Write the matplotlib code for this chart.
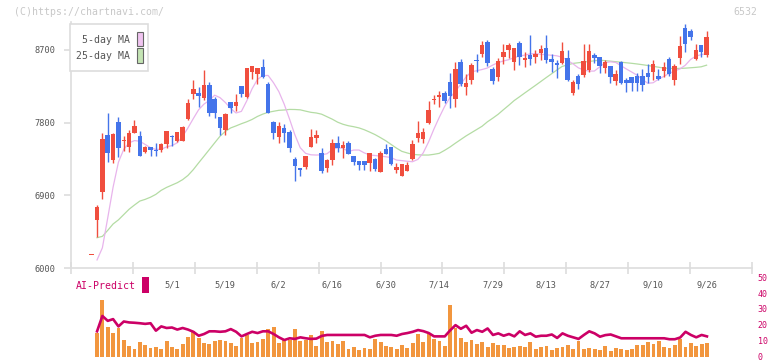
import numpy as np
import matplotlib
matplotlib.use("Agg")
import matplotlib.pyplot as plt
from matplotlib.patches import Rectangle

# ---------------- data ----------------
opens = [6160, 6594, 6945, 7647, 7337, 7807, 7570, 7502, 7675, 7634,
         7440, 7498, 7455, 7461, 7539, 7628, 7577, 7577, 7845, 8154,
         8162, 8108, 8265, 8089, 7870, 7705, 8055, 8010, 8253, 8121,
         8430, 8405, 8488, 8278, 7807, 7625, 7733, 7684, 7346, 7235,
         7254, 7502, 7613, 7424, 7242, 7341, 7548, 7490, 7548, 7387,
         7325, 7325, 7304, 7350, 7193, 7473, 7498, 7217, 7143, 7205,
         7350, 7613, 7600, 7795, 8080, 8113, 8162, 8303, 8096, 8550,
         8245, 8327, 8575, 8650, 8798, 8464, 8365, 8612, 8700, 8554,
         8785, 8580, 8637, 8612, 8662, 8723, 8587, 8530, 8538, 8600,
         8167, 8377, 8393, 8455, 8637, 8612, 8480, 8505, 8319, 8554,
         8327, 8368, 8377, 8377, 8414, 8426, 8377, 8443, 8587, 8331,
         8600, 8971, 8934, 8587, 8760, 8637]
highs = [6160, 6780, 7667, 7923, 7675, 7869, 7638, 7708, 7832, 7696,
         7510, 7500, 7547, 7547, 7700, 7647, 7684, 7758, 8090, 8327,
         8245, 8451, 8306, 8113, 7873, 7915, 8060, 8150, 8255, 8480,
         8500, 8476, 8587, 8306, 7820, 7807, 7783, 7708, 7380, 7238,
         7387, 7720, 7708, 7486, 7350, 7597, 7634, 7572, 7572, 7387,
         7325, 7325, 7424, 7362, 7448, 7535, 7498, 7300, 7288, 7312,
         7585, 7820, 7733, 8067, 8142, 8195, 8195, 8414, 8550, 8587,
         8402, 8538, 8650, 8810, 8823, 8488, 8600, 8773, 8785, 8723,
         8810, 8674, 8885, 8700, 8760, 8885, 8650, 8575, 8798, 8700,
         8327, 8402, 8773, 8773, 8662, 8612, 8575, 8505, 8451, 8563,
         8352, 8368, 8414, 8464, 8525, 8575, 8464, 8550, 8612, 8525,
         8872, 9021, 8959, 8773, 8760, 8934]
lows = [6160, 6390, 6850, 7316, 7296, 7378, 7452, 7433, 7670, 7385,
        7427, 7390, 7390, 7436, 7482, 7515, 7557, 7577, 7836, 8092,
        7997, 8080, 7885, 7853, 7650, 7650, 7915, 7948, 8118, 8100,
        8335, 8280, 8355, 7920, 7600, 7551, 7560, 7440, 7080, 7143,
        7230, 7500, 7550, 7180, 7193, 7280, 7440, 7362, 7415, 7270,
        7213, 7213, 7205, 7205, 7193, 7415, 7270, 7180, 7143, 7205,
        7337, 7560, 7550, 7783, 8034, 7997, 8047, 7985, 7997, 8253,
        8146, 8278, 8426, 8612, 8500, 8278, 8315, 8525, 8600, 8450,
        8513, 8488, 8513, 8538, 8575, 8538, 8426, 8352, 8525, 8315,
        8142, 8216, 8368, 8430, 8538, 8418, 8418, 8295, 8270, 8282,
        8183, 8195, 8195, 8195, 8295, 8327, 8327, 8368, 8377, 8270,
        8525, 8674, 8823, 8575, 8612, 8612]
closes = [6160, 6755, 7597, 7427, 7659, 7490, 7585, 7671, 7758, 7390,
          7498, 7465, 7445, 7535, 7696, 7618, 7684, 7750, 8043, 8212,
          8133, 8265, 7915, 7915, 7737, 7906, 7981, 8052, 8150, 8476,
          8500, 8476, 8364, 7923, 7675, 7758, 7671, 7490, 7267, 7210,
          7387, 7622, 7647, 7205, 7337, 7548, 7490, 7523, 7415, 7316,
          7275, 7275, 7424, 7226, 7424, 7415, 7291, 7250, 7288, 7275,
          7535, 7671, 7684, 7956, 8092, 8142, 8071, 8133, 8464, 8282,
          8290, 8513, 8565, 8760, 8542, 8315, 8563, 8674, 8760, 8723,
          8608, 8600, 8587, 8650, 8711, 8575, 8550, 8520, 8686, 8327,
          8303, 8278, 8563, 8686, 8604, 8505, 8550, 8368, 8402, 8295,
          8295, 8295, 8295, 8265, 8368, 8525, 8340, 8488, 8402, 8505,
          8748, 8777, 8860, 8699, 8674, 8860]

ma5 = [np.nan, 6100, 6250, 6620, 7000, 7310, 7470, 7550, 7578, 7570,
       7530, 7490, 7468, 7470, 7500, 7516, 7550, 7630, 7735, 7850,
       7960, 8030, 8075, 8140, 8110, 8050, 7975, 7920, 7940, 8070,
       8220, 8335, 8382, 8385, 8295, 8185, 8030, 7845, 7650, 7490,
       7420, 7402, 7399, 7402, 7415, 7465, 7490, 7484, 7442, 7461,
       7461, 7425, 7400, 7393, 7386, 7378, 7368, 7337, 7330, 7322,
       7316, 7345, 7425, 7560, 7720, 7865, 8000, 8110, 8185, 8275,
       8365, 8430, 8443, 8458, 8477, 8513, 8544, 8564, 8580, 8605,
       8624, 8637, 8651, 8655, 8648, 8640, 8635, 8628, 8610, 8570,
       8530, 8480, 8452, 8439, 8439, 8490, 8542, 8554, 8546, 8505,
       8465, 8427, 8388, 8335, 8288, 8294, 8338, 8373, 8410, 8440,
       8465, 8510, 8582, 8625, 8642, 8656]
ma25 = [np.nan, 6375, 6392, 6466, 6545, 6596, 6662, 6728, 6780, 6829,
        6850, 6877, 6912, 6962, 6998, 7027, 7056, 7094, 7146, 7218,
        7302, 7384, 7467, 7550, 7632, 7692, 7735, 7760, 7787, 7811,
        7840, 7877, 7906, 7928, 7941, 7953, 7957, 7964, 7963, 7959,
        7943, 7928, 7920, 7905, 7874, 7843, 7806, 7780, 7762, 7750,
        7735, 7712, 7683, 7652, 7615, 7576, 7530, 7485, 7445, 7425,
        7408, 7402, 7399, 7399, 7408, 7420, 7457, 7498, 7545, 7590,
        7635, 7675, 7715, 7755, 7810, 7855, 7903, 7960, 8015, 8073,
        8120, 8168, 8215, 8262, 8310, 8358, 8405, 8452, 8497, 8515,
        8534, 8542, 8550, 8558, 8566, 8575, 8568, 8562, 8555, 8549,
        8542, 8535, 8527, 8518, 8508, 8498, 8487, 8477, 8472, 8472,
        8472, 8475, 8480, 8485, 8492, 8512]

volume = [np.nan, 14.8, 35.4, 18.6, 14.8, 17.9, 10.4, 6.7, 4.8, 9.2,
          7.3, 5.4, 6.0, 4.8, 9.8, 6.0, 4.8, 7.9, 12.3, 16.1,
          11.7, 8.5, 7.9, 9.8, 10.4, 9.8, 8.5, 6.7, 11.7, 13.6,
          8.5, 9.2, 11.1, 17.3, 18.6, 8.5, 11.1, 10.4, 17.3, 9.8,
          10.4, 13.6, 6.7, 16.1, 9.2, 9.8, 7.9, 9.8, 4.8, 6.0,
          4.2, 5.4, 4.8, 11.1, 9.2, 6.7, 6.0, 4.8, 7.3, 5.4,
          8.5, 14.2, 9.2, 14.2, 11.1, 9.8, 6.7, 32.3, 17.9, 11.7,
          9.2, 10.4, 7.9, 9.2, 6.0, 8.5, 7.3, 7.3, 5.4, 6.0,
          6.7, 6.0, 9.2, 4.8, 6.0, 6.7, 4.2, 5.4, 6.0, 7.3,
          4.8, 9.8, 4.8, 5.4, 4.8, 4.2, 6.7, 3.6, 5.4, 4.8,
          4.2, 4.8, 7.3, 7.3, 9.2, 7.9, 9.8, 6.0, 5.4, 7.3,
          11.1, 6.0, 8.5, 6.7, 7.9, 8.5]
ai_predict = [np.nan, 15.9, 25.6, 22.5, 23.6, 19.0, 22.1, 21.5, 21.3, 21.0,
              20.6, 21.0, 16.3, 19.0, 18.0, 18.3, 17.0, 18.0, 17.0, 15.6,
              13.1, 14.2, 15.9, 15.9, 15.6, 15.9, 17.3, 15.6, 12.7, 14.2,
              15.6, 14.8, 15.9, 15.9, 14.2, 12.1, 10.4, 11.5, 11.1, 12.1,
              11.5, 11.1, 11.3, 13.0, 13.6, 13.6, 13.6, 13.6, 13.6, 13.6,
              13.6, 13.6, 12.1, 13.1, 13.6, 13.6, 13.6, 13.1, 14.2, 14.8,
              15.6, 16.7, 16.0, 14.8, 12.7, 12.7, 12.7, 16.5, 19.8, 17.5,
              19.4, 15.0, 16.7, 15.6, 17.7, 13.6, 14.6, 13.1, 14.2, 12.7,
              15.9, 13.6, 14.6, 12.5, 13.1, 13.1, 13.9, 11.7, 14.6, 13.1,
              12.1, 11.1, 13.6, 15.9, 14.6, 12.5, 13.5, 13.9, 12.7, 11.5,
              11.5, 11.5, 11.5, 11.5, 11.5, 11.5, 11.5, 11.5, 10.9, 10.9,
              12.0, 15.6, 13.6, 12.1, 13.6, 12.7]

date_labels = ["5/1", "5/19", "6/2", "6/16", "6/30", "7/14",
               "7/29", "8/13", "8/27", "9/10", "9/26"]
date_label_idx = [15, 25, 35, 45, 55, 65, 75, 85, 95, 105, 115]
price_ticks = [6000, 6900, 7800, 8700]
right_ticks = [0, 10, 20, 30, 40, 50]

# ---------------- styling ----------------
W, H = 772, 361
RED = "#f04e3e"
BLUE = "#4474ea"
ORANGE = "#f2963e"
CRIMSON = "#cc0066"
PINK = "#e8b4ec"
GREEN = "#b4dca4"
AXIS_C = "#dddddd"
TXT = "#555555"
MONO = "DejaVu Sans Mono"

def fx(x):
    return x / W

def fy(y):
    return 1 - y / H

fig = plt.figure(figsize=(W / 100, H / 100), dpi=100)
fig.patch.set_facecolor("white")

ax_left, ax_right = 70.7, 752.3
ax_top, ax_bot = 22.0, 268.0
ax = fig.add_axes([fx(ax_left), fy(ax_bot), fx(ax_right) - fx(ax_left), fy(ax_top) - fy(ax_bot)])

n = len(closes)
xs = np.arange(n)
px_per_idx = 5.35
x0_pix = 91.7
xmin = (ax_left - x0_pix) / px_per_idx
xmax = (ax_right - x0_pix) / px_per_idx
ax.set_xlim(xmin, xmax)
price_per_px = 2700 / 218.0
ymax = 6000 + (ax_bot - ax_top) * price_per_px
ax.set_ylim(6000, ymax)

o = np.array(opens, float)
c = np.array(closes, float)
h = np.array(highs, float)
l = np.array(lows, float)
up = c >= o
cols = np.where(up, RED, BLUE)

ax.vlines(xs, l, h, colors=cols, linewidth=1.0, zorder=3)
bottoms = np.minimum(o, c)
heights = np.maximum(np.abs(c - o), 1.2 * price_per_px)
ax.bar(xs, heights, bottom=bottoms, width=0.84, color=cols, linewidth=0, zorder=4)

ax.plot(xs, ma25, color=GREEN, linewidth=0.9, zorder=2)
ax.plot(xs, ma5, color=PINK, linewidth=0.9, zorder=2)

for s in ["top", "right"]:
    ax.spines[s].set_visible(False)
for s in ["left", "bottom"]:
    ax.spines[s].set_color(AXIS_C)
    ax.spines[s].set_linewidth(1.2)

ax.set_yticks(price_ticks)
ax.set_yticklabels([str(v) for v in price_ticks], fontfamily=MONO, fontsize=6.2, color=TXT)
ax.tick_params(axis="y", length=5, width=1.2, color=AXIS_C, pad=6)

ax.set_xticks(date_label_idx)
ax.set_xticklabels(date_labels, fontfamily=MONO, fontsize=6.2, color=TXT)
ax.tick_params(axis="x", which="major", length=0, pad=9)
grid_ticks = [xmin + 62 * j / px_per_idx for j in range(12)]
ax.set_xticks(grid_ticks, minor=True)
ax.tick_params(axis="x", which="minor", length=8, width=1.2, color=AXIS_C, direction="inout")

# legend box
leg = Rectangle((fx(70.3), fy(71.3)), fx(148.3) - fx(70.3), fy(24.3) - fy(71.3),
                transform=fig.transFigure, facecolor="white", edgecolor=AXIS_C,
                linewidth=1.2, zorder=10)
fig.patches.append(leg)
fig.text(fx(129.5), fy(40.3), "5-day MA", ha="right", va="center",
         fontfamily=MONO, fontsize=7.1, color=TXT, zorder=11)
fig.text(fx(129.5), fy(56.3), "25-day MA", ha="right", va="center",
         fontfamily=MONO, fontsize=7.1, color=TXT, zorder=11)
for (ytop, ybot, fc) in [(31.7, 46.0, "#f0c4f0"), (48.3, 63.3, "#c4e4b4")]:
    fig.patches.append(Rectangle((fx(136.7), fy(ybot)), fx(142.7) - fx(136.7), fy(ytop) - fy(ybot),
                                 transform=fig.transFigure, facecolor=fc, edgecolor="#666666",
                                 linewidth=0.8, zorder=11))

fig.text(fx(14), fy(12), "(C)https://chartnavi.com/", ha="left", va="center",
         fontfamily=MONO, fontsize=7.1, color="#c8c8c8")
fig.text(fx(757), fy(12), "6532", ha="right", va="center",
         fontfamily=MONO, fontsize=7.1, color="#c8c8c8")

# ---------------- lower panel ----------------
b_top, b_bot = 277.3, 356.5
ax2 = fig.add_axes([fx(ax_left), fy(b_bot), fx(ax_right) - fx(ax_left), fy(b_top) - fy(b_bot)])
ax2.set_xlim(xmin, xmax)
ax2.set_ylim(0, 50)
ax2.bar(xs, volume, width=0.72, color=ORANGE, linewidth=0, zorder=2)
ax2.plot(xs, ai_predict, color=CRIMSON, linewidth=1.9, zorder=3, clip_on=False)
for s in ax2.spines.values():
    s.set_visible(False)
ax2.set_xticks([])
ax2.yaxis.tick_right()
ax2.set_yticks(right_ticks)
ax2.set_yticklabels([str(v) for v in right_ticks], fontfamily=MONO, fontsize=6.0, color=CRIMSON)
ax2.tick_params(axis="y", length=0, pad=4)
ax2.patch.set_alpha(0)

fig.text(fx(76), fy(286), "AI-Predict", ha="left", va="center",
         fontfamily=MONO, fontsize=7.1, color=CRIMSON)
fig.patches.append(Rectangle((fx(142.3), fy(292.7)), fx(148.7) - fx(142.3), fy(277.3) - fy(292.7),
                             transform=fig.transFigure, facecolor=CRIMSON, edgecolor="none"))

fig.savefig("out.png", dpi=100, facecolor="white")
